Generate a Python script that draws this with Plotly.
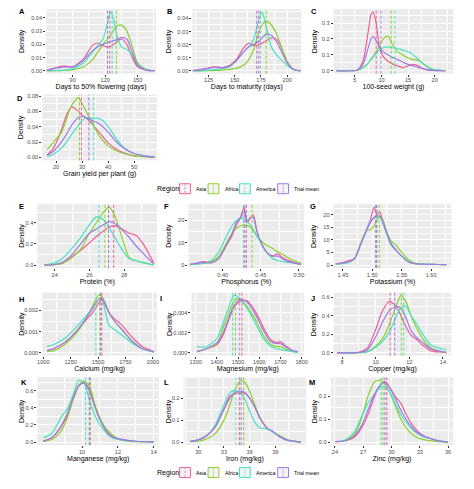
import plotly.graph_objects as go

W, H = 474, 489
REGIONS = ["Asia", "Africa", "America", "Trial mean"]
COLORS = ["#EE5F93", "#8BD02A", "#45E2BF", "#9E79EA"]

# ---------------- data ----------------
# A: Days to 50% flowering
A_x = [66, 75, 82, 90, 100, 108, 113, 118, 122, 125, 128, 131, 135, 140, 145, 150, 158, 166]
A_asia = [0.0003, 0.0025, 0.0037, 0.003, 0.009, 0.019, 0.021, 0.019, 0.018, 0.0185, 0.02, 0.022, 0.024, 0.02, 0.01, 0.003, 0.0005, 0]
A_africa = [0, 0, 0.0002, 0.0008, 0.003, 0.008, 0.014, 0.02, 0.024, 0.027, 0.031, 0.034, 0.0345, 0.03, 0.018, 0.006, 0.001, 0]
A_america = [0, 0.0002, 0.0005, 0.0015, 0.006, 0.014, 0.019, 0.024, 0.036, 0.0445, 0.038, 0.026, 0.018, 0.016, 0.012, 0.005, 0.0008, 0]
A_trial = [0.0003, 0.002, 0.003, 0.0028, 0.008, 0.015, 0.018, 0.02, 0.021, 0.022, 0.023, 0.0235, 0.025, 0.024, 0.014, 0.004, 0.0005, 0]
A_means = [124.2, 130.3, 126.4, 122.1]
A_xlab = ["90", "120", "150"]
A_ylab = ["0.00", "0.01", "0.02", "0.03", "0.04"]

# B: Days to maturity
B_x = [110, 120, 130, 138, 145, 152, 158, 163, 168, 172, 176, 180, 185, 190, 195, 200, 206, 213]
B_asia = [0, 0.0012, 0.003, 0.0025, 0.004, 0.009, 0.017, 0.021, 0.0195, 0.0195, 0.021, 0.023, 0.025, 0.024, 0.017, 0.007, 0.001, 0]
B_africa = [0, 0, 0.0002, 0.0005, 0.001, 0.002, 0.004, 0.008, 0.016, 0.027, 0.035, 0.038, 0.035, 0.028, 0.017, 0.007, 0.001, 0]
B_america = [0, 0, 0.0008, 0.0015, 0.003, 0.008, 0.014, 0.018, 0.024, 0.036, 0.045, 0.034, 0.018, 0.012, 0.008, 0.004, 0.001, 0]
B_trial = [0, 0.001, 0.0025, 0.0022, 0.0035, 0.008, 0.014, 0.018, 0.02, 0.022, 0.025, 0.028, 0.027, 0.022, 0.014, 0.006, 0.001, 0]
B_means = [173.0, 180.0, 174.5, 171.0]
B_xlab = ["125", "150", "175", "200"]
B_ylab = ["0.00", "0.01", "0.02", "0.03", "0.04"]

# C: 100-seed weight
C_x = [1.5, 4, 5.5, 6.5, 7.3, 8.0, 8.4, 9.0, 9.6, 10.3, 11.2, 12.0, 13.0, 14.0, 15.0, 16.0, 17.0, 18.0, 19.5, 22]
C_asia = [0, 0, 0.005, 0.06, 0.2, 0.35, 0.37, 0.3, 0.15, 0.09, 0.06, 0.045, 0.03, 0.02, 0.03, 0.04, 0.03, 0.01, 0.002, 0]
C_africa = [0, 0, 0.003, 0.02, 0.04, 0.07, 0.09, 0.12, 0.16, 0.2, 0.217, 0.17, 0.12, 0.1, 0.08, 0.07, 0.065, 0.04, 0.01, 0]
C_america = [0, 0, 0.003, 0.02, 0.04, 0.07, 0.085, 0.11, 0.13, 0.145, 0.15, 0.145, 0.14, 0.13, 0.12, 0.1, 0.07, 0.04, 0.01, 0]
C_trial = [0, 0, 0.005, 0.04, 0.12, 0.2, 0.215, 0.19, 0.15, 0.12, 0.1, 0.085, 0.07, 0.055, 0.04, 0.03, 0.02, 0.01, 0.003, 0]
C_means = [9.0, 11.8, 12.5, 9.9]
C_xlab = ["5", "10", "15", "20"]
C_ylab = ["0.0", "0.1", "0.2", "0.3"]

# D: Grain yield per plant
D_x = [16.6, 19, 22, 24, 26, 28.6, 30, 32, 34, 36, 38, 40, 43, 46, 50, 54, 58]
D_asia = [0.003, 0.012, 0.035, 0.055, 0.066, 0.06, 0.055, 0.05, 0.043, 0.035, 0.027, 0.019, 0.011, 0.006, 0.002, 0.001, 0.0002]
D_africa = [0.01, 0.02, 0.032, 0.05, 0.068, 0.078, 0.07, 0.057, 0.045, 0.031, 0.022, 0.015, 0.009, 0.005, 0.002, 0.0008, 0.0001]
D_america = [0.001, 0.004, 0.012, 0.02, 0.03, 0.042, 0.048, 0.052, 0.051, 0.051, 0.048, 0.04, 0.025, 0.013, 0.005, 0.002, 0.0003]
D_trial = [0.003, 0.008, 0.02, 0.03, 0.042, 0.052, 0.054, 0.051, 0.048, 0.045, 0.04, 0.033, 0.021, 0.012, 0.005, 0.002, 0.0003]
D_means = [29.8, 29.0, 34.5, 32.6]
D_xlab = ["20", "30", "40", "50"]
D_ylab = ["0.00", "0.02", "0.04", "0.06", "0.08"]

# E: Protein
E_x = [23.4, 24, 24.5, 25, 25.5, 26, 26.4, 26.8, 27.15, 27.5, 27.9, 28.3, 28.7, 29.1, 29.7]
E_asia = [0, 0.004, 0.02, 0.08, 0.14, 0.21, 0.27, 0.32, 0.36, 0.37, 0.34, 0.3, 0.28, 0.2, 0.02]
E_africa = [0, 0.005, 0.02, 0.07, 0.15, 0.3, 0.4, 0.5, 0.548, 0.45, 0.25, 0.07, 0.04, 0.025, 0]
E_america = [0, 0.02, 0.07, 0.16, 0.26, 0.38, 0.455, 0.43, 0.35, 0.25, 0.14, 0.06, 0.04, 0.02, 0]
E_trial = [0, 0.005, 0.03, 0.1, 0.2, 0.3, 0.34, 0.38, 0.41, 0.39, 0.33, 0.26, 0.18, 0.11, 0.01]
E_means = [27.4, 26.9, 26.55, 27.1]
E_xlab = ["24", "26", "28"]
E_ylab = ["0.0", "0.2", "0.4"]

# F: Phosphorus
F_x = [0.357, 0.365, 0.375, 0.385, 0.395, 0.405, 0.412, 0.418, 0.423, 0.428, 0.432, 0.436, 0.44, 0.445, 0.45, 0.457, 0.465, 0.472, 0.48, 0.49, 0.503]
F_asia = [0.3, 0.8, 1.5, 1.0, 3, 9, 13, 18, 21, 26, 19, 21, 22.5, 15, 10, 6, 4, 5, 3, 1.5, 0.3]
F_africa = [0.2, 0.4, 0.7, 1.5, 4, 10, 14, 16.5, 17.5, 18, 17.8, 17, 15.5, 13, 11, 9, 7.5, 6, 4.5, 2.5, 0.8]
F_america = [0.2, 0.4, 0.8, 2, 6, 13, 17.5, 20, 21, 20.5, 19.5, 18, 16, 13, 10, 6, 3, 2, 1.5, 1, 0.3]
F_trial = [0.3, 0.7, 1.2, 1.0, 3, 9, 14, 19, 21, 24, 20, 21, 21.5, 15, 10.5, 6, 4, 4, 2.5, 1.2, 0.3]
F_means = [0.429, 0.4385, 0.427, 0.431]
F_xlab = ["0.40", "0.45", "0.50"]
F_ylab = ["0", "10", "20"]

# G: Potassium
G_x = [1.438, 1.45, 1.46, 1.47, 1.48, 1.49, 1.497, 1.503, 1.508, 1.513, 1.518, 1.525, 1.532, 1.54, 1.55, 1.56, 1.57, 1.59, 1.61, 1.626]
G_asia = [0.5, 1.0, 1.8, 2.5, 8, 14, 18, 23, 20, 21, 17, 12, 8, 6, 3.5, 1.5, 0.6, 0.3, 0.2, 0.1]
G_africa = [0.3, 0.6, 1.0, 2.5, 8.5, 13.5, 14, 15.5, 18, 19, 18, 13, 9.5, 8, 5, 2.5, 1.0, 0.3, 0.2, 0.1]
G_america = [0.3, 0.6, 1.0, 2.5, 8, 14, 17, 18.5, 19, 19, 17, 12, 8, 6, 3.5, 1.7, 0.7, 0.3, 0.2, 0.1]
G_trial = [0.4, 0.8, 1.3, 2.5, 8, 13.5, 17, 19, 19.5, 19.5, 17, 12.5, 8.5, 6, 3.5, 1.5, 0.6, 0.3, 0.2, 0.1]
G_means = [1.506, 1.512, 1.508, 1.507]
G_xlab = ["1.45", "1.50", "1.55", "1.60"]
G_ylab = ["0", "5", "10", "15", "20"]

# H: Calcium
H_x = [1036, 1100, 1200, 1300, 1400, 1450, 1500, 1530, 1560, 1600, 1650, 1700, 1750, 1800, 1900, 2009]
H_asia = [0.0001, 0.0002, 0.0005, 0.001, 0.0016, 0.0019, 0.0023, 0.0025, 0.0023, 0.0019, 0.0016, 0.0014, 0.0011, 0.0008, 0.0003, 0.00005]
H_africa = [0.00005, 0.0001, 0.0004, 0.0009, 0.0017, 0.0022, 0.0027, 0.0027, 0.0024, 0.0019, 0.0015, 0.0012, 0.0009, 0.0006, 0.0002, 0.00003]
H_america = [0.0003, 0.0004, 0.0007, 0.0012, 0.0018, 0.0021, 0.0025, 0.0026, 0.0021, 0.0013, 0.0011, 0.0009, 0.0007, 0.0005, 0.0002, 0.00003]
H_trial = [0.0001, 0.0002, 0.0005, 0.001, 0.0017, 0.0021, 0.0025, 0.0026, 0.0024, 0.0019, 0.0015, 0.0012, 0.0009, 0.0006, 0.0002, 0.00005]
H_means = [1535, 1515, 1480, 1525]
H_xlab = ["1000", "1250", "1500", "1750", "2000"]
H_ylab = ["0.000", "0.001", "0.002"]

# I: Magnesium
I_x = [1306, 1350, 1400, 1430, 1460, 1480, 1500, 1520, 1540, 1560, 1590, 1620, 1650, 1680, 1700, 1730, 1760, 1782]
I_asia = [0.0001, 0.0004, 0.0008, 0.0018, 0.0035, 0.0045, 0.005, 0.0052, 0.0052, 0.0048, 0.0038, 0.0025, 0.0014, 0.001, 0.0011, 0.0006, 0.0002, 0.0001]
I_africa = [0.0001, 0.0004, 0.0009, 0.0025, 0.0042, 0.0051, 0.0054, 0.0052, 0.0047, 0.0041, 0.003, 0.0017, 0.0009, 0.0006, 0.0006, 0.0003, 0.0001, 0.00005]
I_america = [0.0006, 0.0006, 0.0014, 0.003, 0.0048, 0.0057, 0.0056, 0.0051, 0.0045, 0.0038, 0.0026, 0.0014, 0.0007, 0.0004, 0.0003, 0.0002, 0.0001, 0.00005]
I_trial = [0.0001, 0.0004, 0.001, 0.002, 0.0037, 0.0047, 0.0052, 0.0053, 0.0051, 0.0046, 0.0035, 0.0022, 0.0012, 0.0009, 0.0009, 0.0005, 0.0002, 0.0001]
I_means = [1518, 1488, 1475, 1505]
I_xlab = ["1300", "1400", "1500", "1600", "1700", "1800"]
I_ylab = ["0.000", "0.002", "0.004", "0.006"]

# J: Copper
J_x = [7.7, 9, 9.5, 10, 10.4, 10.8, 11.2, 11.5, 11.8, 12.1, 12.4, 12.8, 13.3, 14, 14.2]
J_asia = [0, 0.005, 0.05, 0.25, 0.45, 0.554, 0.5, 0.4, 0.28, 0.19, 0.15, 0.08, 0.02, 0.005, 0]
J_africa = [0, 0, 0.01, 0.07, 0.15, 0.3, 0.5, 0.617, 0.55, 0.4, 0.28, 0.15, 0.05, 0.01, 0.005]
J_america = [0, 0, 0.01, 0.06, 0.12, 0.22, 0.38, 0.49, 0.5, 0.4, 0.32, 0.2, 0.08, 0.04, 0.03]
J_trial = [0, 0.003, 0.03, 0.17, 0.33, 0.45, 0.5, 0.48, 0.38, 0.24, 0.17, 0.11, 0.04, 0.01, 0.005]
J_means = [10.86, 11.52, 11.67, 11.13]
J_xlab = ["8", "10", "12", "14"]
J_ylab = ["0.0", "0.2", "0.4", "0.6"]

# K: Manganese
K_x = [7.83, 8.3, 8.8, 9.2, 9.5, 9.8, 10.1, 10.4, 10.7, 11.0, 11.3, 11.6, 12.0, 12.5, 13, 14]
K_asia = [0.01, 0.05, 0.17, 0.33, 0.5, 0.65, 0.7, 0.62, 0.43, 0.27, 0.15, 0.08, 0.04, 0.02, 0.01, 0]
K_africa = [0.005, 0.03, 0.12, 0.3, 0.5, 0.66, 0.715, 0.66, 0.45, 0.28, 0.17, 0.1, 0.04, 0.01, 0.005, 0]
K_america = [0.05, 0.1, 0.28, 0.4, 0.55, 0.72, 0.7, 0.5, 0.32, 0.2, 0.12, 0.06, 0.03, 0.02, 0.01, 0]
K_trial = [0.01, 0.05, 0.18, 0.35, 0.52, 0.66, 0.69, 0.6, 0.42, 0.26, 0.14, 0.07, 0.04, 0.02, 0.01, 0]
K_means = [10.45, 10.45, 10.2, 10.4]
K_xlab = ["10", "12", "14"]
K_ylab = ["0.0", "0.2", "0.4", "0.6"]

# L: Iron
L_x = [29.05, 30, 31, 32, 33, 33.7, 34.3, 35, 35.5, 36, 36.6, 37.2, 38, 38.8, 39.5, 40.5, 42]
L_asia = [0.003, 0.01, 0.03, 0.07, 0.15, 0.21, 0.22, 0.225, 0.22, 0.2, 0.16, 0.11, 0.065, 0.045, 0.025, 0.008, 0]
L_africa = [0.002, 0.004, 0.015, 0.04, 0.1, 0.17, 0.24, 0.28, 0.27, 0.23, 0.17, 0.11, 0.065, 0.045, 0.03, 0.01, 0.001]
L_america = [0.003, 0.01, 0.03, 0.08, 0.17, 0.225, 0.234, 0.22, 0.19, 0.14, 0.09, 0.065, 0.06, 0.045, 0.025, 0.008, 0]
L_trial = [0.003, 0.01, 0.03, 0.07, 0.15, 0.2, 0.225, 0.232, 0.225, 0.2, 0.16, 0.11, 0.065, 0.045, 0.025, 0.008, 0]
L_means = [34.8, 35.3, 34.4, 35.0]
L_xlab = ["30", "33", "36", "39"]
L_ylab = ["0.0", "0.1", "0.2"]

# M: Zinc
M_x = [24.07, 25, 26, 26.8, 27.5, 28.2, 28.8, 29.3, 29.8, 30.4, 31, 31.7, 32.5, 33.3, 34.2, 35, 36]
M_asia = [0.002, 0.005, 0.02, 0.06, 0.12, 0.2, 0.25, 0.265, 0.24, 0.2, 0.17, 0.11, 0.06, 0.03, 0.015, 0.005, 0]
M_africa = [0.002, 0.006, 0.03, 0.1, 0.2, 0.265, 0.27, 0.255, 0.22, 0.16, 0.1, 0.055, 0.025, 0.012, 0.005, 0.002, 0]
M_america = [0.002, 0.008, 0.04, 0.11, 0.17, 0.21, 0.24, 0.243, 0.22, 0.17, 0.12, 0.08, 0.045, 0.025, 0.015, 0.005, 0]
M_trial = [0.002, 0.005, 0.025, 0.07, 0.14, 0.21, 0.25, 0.262, 0.24, 0.19, 0.14, 0.09, 0.05, 0.028, 0.015, 0.005, 0]
M_means = [29.5, 29.1, 28.9, 29.3]
M_xlab = ["24", "27", "30", "33", "36"]
M_ylab = ["0.0", "0.1", "0.2"]

TITLES = {
    "A": "Days to 50% flowering (days)", "B": "Days to maturity (days)", "C": "100-seed weight (g)",
    "D": "Grain yield per plant (g)", "E": "Protein (%)", "F": "Phosphorus (%)", "G": "Potassium (%)",
    "H": "Calcium (mg/kg)", "I": "Magnesium (mg/kg)", "J": "Copper (mg/kg)",
    "K": "Manganese (mg/kg)", "L": "Iron (mg/kg)", "M": "Zinc (mg/kg)",
}

PANEL_DATA = {
    "A": (A_x, [A_asia, A_africa, A_america, A_trial], A_means, A_xlab, A_ylab),
    "B": (B_x, [B_asia, B_africa, B_america, B_trial], B_means, B_xlab, B_ylab),
    "C": (C_x, [C_asia, C_africa, C_america, C_trial], C_means, C_xlab, C_ylab),
    "D": (D_x, [D_asia, D_africa, D_america, D_trial], D_means, D_xlab, D_ylab),
    "E": (E_x, [E_asia, E_africa, E_america, E_trial], E_means, E_xlab, E_ylab),
    "F": (F_x, [F_asia, F_africa, F_america, F_trial], F_means, F_xlab, F_ylab),
    "G": (G_x, [G_asia, G_africa, G_america, G_trial], G_means, G_xlab, G_ylab),
    "H": (H_x, [H_asia, H_africa, H_america, H_trial], H_means, H_xlab, H_ylab),
    "I": (I_x, [I_asia, I_africa, I_america, I_trial], I_means, I_xlab, I_ylab),
    "J": (J_x, [J_asia, J_africa, J_america, J_trial], J_means, J_xlab, J_ylab),
    "K": (K_x, [K_asia, K_africa, K_america, K_trial], K_means, K_xlab, K_ylab),
    "L": (L_x, [L_asia, L_africa, L_america, L_trial], L_means, L_xlab, L_ylab),
    "M": (M_x, [M_asia, M_africa, M_america, M_trial], M_means, M_xlab, M_ylab),
}

# ---------------- layout (pixels) ----------------
BOX = {  # left, right, top, bottom
    "A": (42, 154, 7, 72), "B": (191, 302, 7, 72), "C": (335, 457, 7, 72),
    "D": (38, 155, 93, 159),
    "E": (33, 155, 203, 267), "F": (187, 305, 203, 267), "G": (335, 455, 203, 267),
    "H": (38, 155, 292, 355), "I": (190, 305, 292, 355), "J": (335, 455, 292, 355),
    "K": (33, 157, 377, 445), "L": (182, 307, 377, 445), "M": (332, 457, 377, 445),
}
XRANGE = {
    "A": (65.5, 167), "B": (109.7, 213.4), "C": (1, 23.5), "D": (14.7, 58.8),
    "E": (23, 29.9), "F": (0.355, 0.507), "G": (1.4344, 1.6344), "H": (991, 2039),
    "I": (1280, 1812), "J": (7.5, 14.5), "K": (7.5, 14.3), "L": (28.28, 42.6), "M": (23.55, 36.56),
}
LETTER_POS = {
    "A": (17, 10), "B": (168, 10), "C": (315, 10), "D": (15, 97),
    "E": (17, 205), "F": (165, 205), "G": (314, 205),
    "H": (17, 299), "I": (159, 298), "J": (314, 298),
    "K": (19, 382), "L": (165, 382), "M": (313, 382),
}
YTITLE_X = {"A": 18, "B": 168, "C": 316, "D": 17, "E": 17, "F": 167, "G": 315,
            "H": 17, "I": 168, "J": 315, "K": 18, "L": 168, "M": 316}
FONT = "Liberation Sans, Arial, sans-serif"


def px(xp):
    return xp / W


def py(yp):
    return 1 - yp / H


def minor_vals(vals, lo, hi):
    step = vals[1] - vals[0]
    out = []
    v = vals[0] - step / 2
    while v >= lo:
        v -= step
    v += step
    while v <= hi:
        out.append(v)
        v += step
    return out


fig = go.Figure()
shapes = []
annotations = []

for i, key in enumerate(["A", "B", "C", "D", "E", "F", "G", "H", "I", "J", "K", "L", "M"], start=1):
    xs, series, means, xlab, ylab = PANEL_DATA[key]
    sfx = "" if i == 1 else str(i)
    xa, ya = "x" + sfx, "y" + sfx
    for name, ys, col in zip(REGIONS, series, COLORS):
        fig.add_trace(go.Scatter(
            x=xs, y=ys, mode="lines", name=name, showlegend=False, hoverinfo="skip",
            line=dict(color=col, width=1.2, shape="spline", smoothing=0.7),
            xaxis=xa, yaxis=ya))
    for m, col in zip(means, COLORS):
        shapes.append(dict(type="line", xref=xa, yref=ya + " domain", x0=m, x1=m, y0=0, y1=1,
                           line=dict(color=col, width=1, dash="3px,2px"), layer="above"))
    l, r, t, b = BOX[key]
    ymax = max(max(s) for s in series)
    xt = [float(s) for s in xlab]
    yt = [float(s) for s in ylab]
    xr = XRANGE[key]
    yr = (-0.05 * ymax, 1.05 * ymax)
    common = dict(showgrid=True, gridcolor="white", gridwidth=0.9, zeroline=False, showline=False,
                  ticks="outside", ticklen=2, tickwidth=0.7, tickcolor="#333333",
                  tickfont=dict(size=5.6, color="#4D4D4D", family=FONT))
    fig.layout["xaxis" + sfx] = dict(
        common, domain=[px(l), px(r)], anchor=ya, range=list(xr), tickmode="array",
        tickvals=xt, ticktext=xlab, ticklabelstandoff=-1,
        minor=dict(showgrid=True, gridcolor="white", gridwidth=0.4, tickmode="array",
                   tickvals=minor_vals(xt, xr[0], xr[1])),
        title=dict(text=TITLES[key], font=dict(size=7, color="black", family=FONT), standoff=1))
    fig.layout["yaxis" + sfx] = dict(
        common, domain=[py(b), py(t)], anchor=xa, range=list(yr), tickmode="array",
        tickvals=yt, ticktext=ylab,
        minor=dict(showgrid=True, gridcolor="white", gridwidth=0.4, tickmode="array",
                   tickvals=minor_vals(yt, yr[0], yr[1])))
    annotations.append(dict(text="Density", x=px(YTITLE_X[key]), y=py((t + b) / 2),
                            xref="paper", yref="paper", showarrow=False, textangle=-90,
                            xanchor="center", yanchor="middle",
                            font=dict(size=7, color="black", family=FONT)))
    lx, ly = LETTER_POS[key]
    annotations.append(dict(text="<b>%s</b>" % key, x=px(lx), y=py(ly), xref="paper", yref="paper",
                            showarrow=False, xanchor="center", yanchor="middle",
                            font=dict(size=7.5, color="black", family=FONT)))

# legends (two copies, as in the figure)
KEY_X = [178, 207, 239, 278]
for ly in (187.5, 472.5):
    annotations.append(dict(text="Region", x=px(153), y=py(ly), xref="paper", yref="paper",
                            showarrow=False, xanchor="left", yanchor="middle",
                            font=dict(size=7, color="black", family=FONT)))
    for kx, name, col in zip(KEY_X, REGIONS, COLORS):
        shapes.append(dict(type="rect", xref="paper", yref="paper",
                           x0=px(kx), x1=px(kx + 11), y0=py(ly + 5), y1=py(ly - 5),
                           fillcolor="#F4F4F4", line=dict(color=col, width=1)))
        shapes.append(dict(type="line", xref="paper", yref="paper",
                           x0=px(kx + 5.5), x1=px(kx + 5.5), y0=py(ly + 4), y1=py(ly - 4),
                           line=dict(color=col, width=0.8, dash="2px,1.5px")))
        annotations.append(dict(text=name, x=px(kx + 15), y=py(ly), xref="paper", yref="paper",
                                showarrow=False, xanchor="left", yanchor="middle",
                                font=dict(size=5.3, color="black", family=FONT)))

fig.update_layout(
    width=W, height=H, margin=dict(l=0, r=0, t=0, b=0),
    paper_bgcolor="white", plot_bgcolor="#EBEBEB",
    shapes=shapes, annotations=annotations, showlegend=False,
    font=dict(family=FONT),
)

fig.write_html("out.html", config={"displayModeBar": False},
               post_script="document.body.style.margin='0px';document.body.style.overflow='hidden';")
